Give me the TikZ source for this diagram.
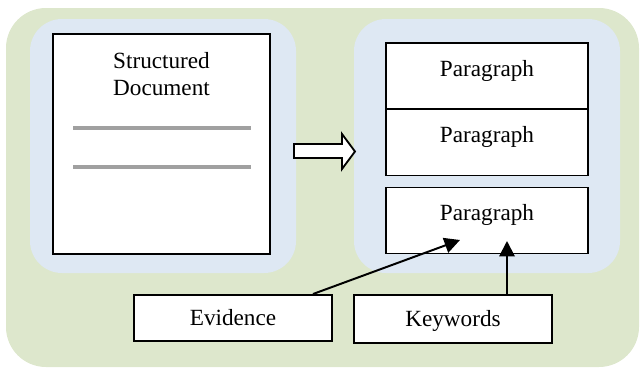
\documentclass[tikz,border=0pt]{standalone}
\usepackage{fontspec}
\setmainfont{Liberation Serif}
\usetikzlibrary{arrows.meta,calc}
\definecolor{outergreen}{RGB}{221,231,204}
\definecolor{innerblue}{RGB}{222,232,243}
\definecolor{rulegray}{RGB}{160,160,160}

\begin{document}
\begin{tikzpicture}[x=0.025cm,y=-0.025cm,>={Triangle[length=11pt,width=11pt]},font=\fontsize{16.5}{19.1}\selectfont]
\tikzstyle{box}=[draw,line width=1.4pt,fill=white,inner sep=0pt]
\tikzstyle{para}=[box,minimum width=5.05cm,minimum height=1.65cm,text height=6pt,text depth=6pt]
\tikzstyle{tag}=[box,minimum width=4.95cm,text height=11pt,text depth=0pt]
\useasboundingbox (0,0) rectangle (640,368);
% background panels
\fill[outergreen,rounded corners=1cm] (6,8) rectangle (639,367);
\fill[innerblue,rounded corners=0.8cm] (30,19) rectangle (296,273);
\fill[innerblue,rounded corners=0.8cm] (354,19) rectangle (620,273);
% structured document
\node[box,minimum width=5.425cm,minimum height=5.5cm] (doc) at (161.5,144) {};
\node[anchor=north,inner sep=0pt,align=center] (title) at (161.5,52) {Structured\\Document};
\draw[rulegray,line width=2.6pt] (73,128) -- (251,128);
\draw[rulegray,line width=2.6pt] (73,167) -- (251,167);
% hollow arrow
\draw[line width=1.3pt,fill=white] (294,144) -- (342,144) -- (342,134) -- (355,151.5) -- (342,169) -- (342,158) -- (294,158) -- cycle;
% paragraphs
\node[para] (p1) at (487,76) {Paragraph};
\node[para] (p2) at (487,142.5) {Paragraph};
\node[para] (p3) at (487,220.5) {Paragraph};
% evidence and keywords
\node[tag,minimum height=1.15cm] (ev) at (233,318) {Evidence};
\node[tag,minimum height=1.2cm] (kw) at (453,319) {Keywords};
\coordinate (evtip) at (460,240); \coordinate (kwtip) at (507,241);
\draw[->,line width=1.4pt] ($(ev.north east)+(-20,0)$) -- (evtip);
\draw[->,line width=1.4pt] ($(kw.north)+(54,0)$) -- (kwtip);
\end{tikzpicture}
\end{document}
